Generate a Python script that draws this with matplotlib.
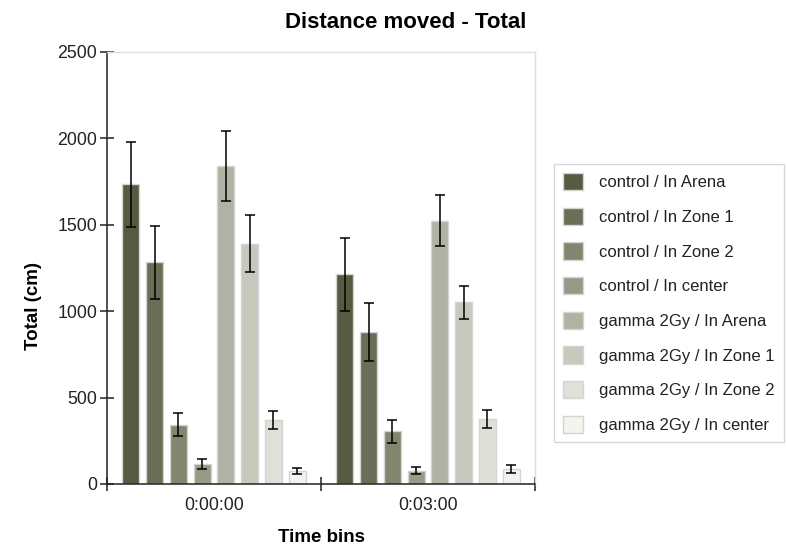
import matplotlib
matplotlib.use("Agg")
import matplotlib.pyplot as plt
import numpy as np

plt.rcParams['font.family'] = ['Liberation Sans', 'DejaVu Sans']

time_bins = ["0:00:00", "0:03:00"]
series = ["control / In Arena", "control / In Zone 1", "control / In Zone 2", "control / In center",
          "gamma 2Gy / In Arena", "gamma 2Gy / In Zone 1", "gamma 2Gy / In Zone 2", "gamma 2Gy / In center"]
colors = ["#565a40", "#6b6e57", "#83856f", "#989a87", "#b1b2a3", "#c8c9bd", "#dfe0d7", "#f3f4ee"]
# values[series][time bin]
values = [
    [1733, 1213],
    [1283, 878],
    [343, 306],
    [116, 77],
    [1839, 1522],
    [1389, 1052],
    [370, 375],
    [76, 88],
]
errors = [
    [245, 210],
    [211, 167],
    [67, 67],
    [29, 19],
    [202, 148],
    [164, 95],
    [53, 53],
    [18, 24],
]

fig = plt.figure(figsize=(7.86, 5.5), dpi=100)
ax = fig.add_axes([107/786, 1-484/550, (535-107)/786, (484-51.7)/550])

pitch = 0.111
width = 0.08
centers = np.arange(len(time_bins)) + 0.5
handles = []
for i, (s, c) in enumerate(zip(series, colors)):
    x = centers + (i - 3.5) * pitch
    b = ax.bar(x, values[i], width=width, color=c, edgecolor="#d4d4d4", linewidth=1.0,
               label=s, zorder=2)
    ax.errorbar(x, values[i], yerr=errors[i], fmt='none', ecolor='black', elinewidth=1.1,
                capsize=3.3, capthick=1.1, zorder=3)
    handles.append(b)

ax.set_xlim(0, 2)
ax.set_ylim(0, 2500)
ax.set_yticks([0, 500, 1000, 1500, 2000, 2500])
ax.set_xticks([0, 1, 2])
ax.set_xticklabels([])
ax.set_xticks(centers, minor=True)
ax.set_xticklabels(time_bins, minor=True)
ax.tick_params(axis='x', which='minor', length=0, pad=9, labelsize=12.8, colors='#222222')
ax.tick_params(axis='x', which='major', direction='inout', length=10, width=1.1, color='#222222')
ax.tick_params(axis='y', direction='inout', length=10, width=1.1, color='#222222',
               labelsize=12.8, labelcolor='#222222', pad=2)

for side in ['top', 'right']:
    ax.spines[side].set_color('#dddddd')
    ax.spines[side].set_linewidth(1.0)
for side in ['left', 'bottom']:
    ax.spines[side].set_color('#222222')
    ax.spines[side].set_linewidth(1.1)

ax.set_ylabel("Total (cm)", fontsize=13.5, fontweight='bold')
ax.yaxis.set_label_coords(-(107-42)/428, (484-306)/432.6)
ax.set_xlabel("Time bins", fontsize=13.5, fontweight='bold')
ax.xaxis.set_label_coords(0.5, -(529-484)/432.6)

fig.text(406/786, 1-22/550, "Distance moved - Total", ha='center', va='center',
         fontsize=16, fontweight='bold')

leg = fig.legend(handles=handles, labels=series, loc='upper left',
                 bbox_to_anchor=(554/786, 1-164/550), fontsize=12.0,
                 handlelength=1.2, handleheight=1.2, labelspacing=1.05,
                 handletextpad=0.95, borderpad=0.55, borderaxespad=0, fancybox=False, frameon=True,
                 edgecolor='#cccccc')
leg.get_frame().set_linewidth(1.0)
for t in leg.get_texts():
    t.set_color('#222222')

fig.savefig("out.png", dpi=100)
